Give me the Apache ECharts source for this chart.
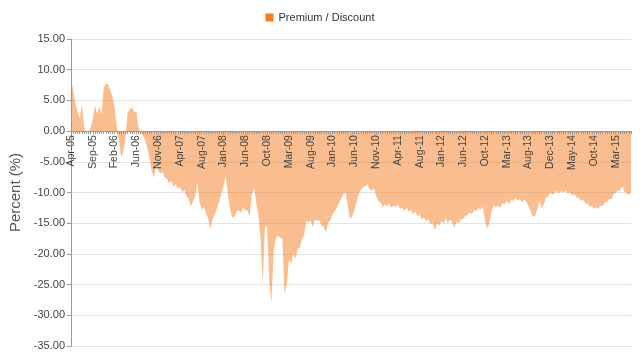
<!DOCTYPE html>
<html>
<head>
<meta charset="utf-8">
<script src="https://cdn.jsdelivr.net/npm/echarts@6/dist/echarts.min.js"></script>
<style>html,body{margin:0;padding:0;background:#fff}#c{width:640px;height:358px}</style>
</head>
<body>
<div id="c"></div>
<script>
// Tick labels shown every 10 data points
var tickLabels = ['Apr-05','Sep-05','Feb-06','Jun-06','Nov-06','Apr-07','Aug-07','Jan-08','Jun-08','Oct-08',
  'Mar-09','Aug-09','Jan-10','Jun-10','Nov-10','Apr-11','Aug-11','Jan-12','Jun-12','Oct-12',
  'Mar-13','Aug-13','Dec-13','May-14','Oct-14','Mar-15'];
var labelStep = 10;
// Premium / Discount (%) values
var premiumDiscount = [
  8.5, 6.8, 4.5, 3.1, 2.1, 4.4, 0.6, -0.2, -0.1, 0.6,
  1.9, 4.2, 2.8, 4.0, 2.8, 7.0, 7.8, 7.6, 6.7, 5.6,
  3.9, 0.7, -1.5, -4.3, -3.4, -1.0, 3.0, 3.5, 3.9, 3.1,
  3.1, 0.6, -0.3, -0.7, -1.5, -2.7, -4.5, -6.5, -7.6, -5.6,
  -6.4, -6.9, -6.6, -7.6, -7.7, -8.5, -8.1, -9.0, -8.6, -9.4,
  -9.1, -9.9, -9.6, -10.6, -11.0, -12.3, -11.4, -10.7, -8.3, -11.6,
  -12.8, -12.4, -13.4, -14.3, -16.0, -14.3, -13.6, -12.6, -11.5, -10.2,
  -8.9, -7.2, -10.3, -12.7, -14.1, -14.0, -13.1, -12.9, -13.3, -12.5,
  -12.9, -12.9, -14.0, -10.4, -9.2, -11.6, -13.8, -17.5, -25.2, -15.5,
  -15.6, -24.5, -28.0, -19.5, -17.5, -17.0, -17.4, -17.5, -26.5, -25.0,
  -21.0, -21.6, -20.0, -20.8, -19.2, -19.0, -17.6, -16.9, -14.6, -14.9,
  -14.5, -15.6, -14.4, -14.6, -14.5, -15.4, -15.6, -16.5, -14.9, -14.6,
  -13.6, -13.1, -12.5, -11.7, -11.0, -10.3, -9.9, -12.1, -14.2, -14.0,
  -12.9, -11.6, -10.2, -9.6, -9.2, -9.0, -8.7, -9.4, -9.7, -9.3,
  -10.5, -11.4, -11.6, -12.4, -11.9, -12.3, -11.8, -12.5, -12.1, -12.4,
  -12.0, -12.7, -12.4, -13.0, -12.5, -13.1, -12.8, -13.6, -13.0, -13.9,
  -13.6, -14.4, -14.0, -14.7, -14.3, -15.2, -14.9, -16.1, -15.0, -15.4,
  -14.7, -15.0, -14.2, -15.0, -14.4, -14.9, -15.8, -14.7, -15.0, -14.3,
  -14.3, -13.8, -13.7, -13.2, -13.5, -12.8, -13.1, -12.5, -12.8, -12.3,
  -14.6, -15.9, -15.0, -13.1, -12.0, -12.4, -12.1, -12.5, -11.8, -11.9,
  -11.4, -11.9, -11.2, -11.4, -10.9, -11.3, -11.1, -11.6, -11.2, -11.5,
  -12.3, -13.0, -14.0, -13.8, -12.7, -11.4, -12.6, -11.9, -10.8, -10.7,
  -10.0, -10.4, -10.1, -9.7, -10.2, -9.7, -10.0, -9.7, -10.2, -10.0,
  -10.5, -10.3, -10.8, -10.9, -11.3, -11.2, -11.8, -11.8, -12.3, -12.2,
  -12.7, -12.4, -12.6, -12.1, -12.2, -11.6, -11.6, -11.0, -11.1, -10.3,
  -10.1, -9.6, -9.7, -8.9, -9.9, -10.1, -10.4, -10.0
];
var yMin = -35, yMax = 15, yStep = 5;
var categories = premiumDiscount.map(function (v, i) {
  return i % labelStep === 0 ? tickLabels[i / labelStep] : '';
});

var chart = echarts.init(document.getElementById('c'), null, {renderer: 'canvas'});
chart.setOption({
  animation: false,
  textStyle: {fontFamily: 'Liberation Sans, Arial, sans-serif'},
  legend: {
    top: 7, left: 'center',
    icon: 'rect', itemWidth: 8, itemHeight: 8, itemGap: 10,
    textStyle: {fontSize: 11, color: '#333'},
    data: ['Premium / Discount']
  },
  grid: {left: 71, right: 9, top: 39, bottom: 12, containLabel: false, outerBoundsMode: 'none'},
  xAxis: {
    type: 'category',
    position: 'bottom',
    data: categories,
    boundaryGap: false,
    offset: 0,
    z: 5,
    axisLine: {onZero: false, lineStyle: {color: '#999', width: 1}},
    axisTick: {show: true, interval: 0, length: 3, lineStyle: {color: '#999'}},
    axisLabel: {interval: 0, rotate: 90, fontSize: 10.5, color: '#444', margin: 4},
    splitLine: {show: false}
  },
  yAxis: {
    type: 'value',
    min: yMin, max: yMax, interval: yStep,
    name: 'Percent (%)',
    nameLocation: 'middle',
    nameGap: 43,
    nameTextStyle: {fontSize: 15, color: '#555'},
    axisLine: {show: true, lineStyle: {color: '#999'}},
    axisTick: {show: true, length: 4, lineStyle: {color: '#999'}},
    axisLabel: {fontSize: 11, color: '#444', margin: 6, formatter: function (v) { return v.toFixed(2); }},
    splitLine: {lineStyle: {color: '#e3e3e3'}}
  },
  series: [{
    name: 'Premium / Discount',
    type: 'line',
    data: premiumDiscount,
    showSymbol: false,
    symbol: 'none',
    color: '#F57C1F',
    lineStyle: {width: 0, opacity: 0},
    areaStyle: {color: '#F57C1F', opacity: 0.5}
  }]
});
// Move the category axis up to the zero line (its labels follow it)
var yZero = chart.convertToPixel({yAxisIndex: 0}, 0);
var yBottom = chart.convertToPixel({yAxisIndex: 0}, yMin);
chart.setOption({xAxis: {offset: yZero - yBottom}});
</script>
</body>
</html>
